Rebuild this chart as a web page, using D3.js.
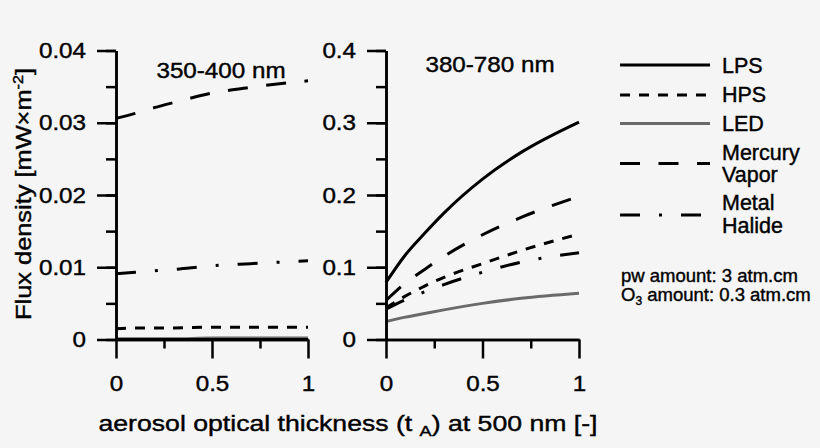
<!DOCTYPE html>
<html>
<head>
<meta charset="utf-8">
<script src="https://cdn.jsdelivr.net/npm/d3@7"></script>
<style>
body { margin: 0; background: #f5f5f5; }
text { font-family: "Liberation Sans", Arial, sans-serif; fill: #000; stroke: #000; stroke-width: 0.4px; }
</style>
</head>
<body>
<div id="chart"></div>
<script>
// aerosol optical thickness at 500 nm
var aot = [0, 0.1, 0.2, 0.3, 0.5, 0.7, 1];

// 350-400 nm panel
var uvLPS = [0, 0, 0, 0, 0, 0, 0];
var uvHPS = [0.0015, 0.0016, 0.0016, 0.0016, 0.0017, 0.0017, 0.0017];
var uvLED = [0.0001, 0.0001, 0.0001, 0.0001, 0.0002, 0.0002, 0.0002];
var uvMercury = [0.0306, 0.0313, 0.0321, 0.0328, 0.0341, 0.0349, 0.0358];
var uvMetal = [0.0091, 0.0093, 0.0095, 0.0097, 0.0102, 0.0105, 0.0109];

// 380-780 nm panel
var visLPS = [0.079, 0.117, 0.147, 0.175, 0.222, 0.259, 0.301];
var visHPS = [0.044, 0.060, 0.074, 0.086, 0.105, 0.123, 0.146];
var visLED = [0.025, 0.031, 0.036, 0.041, 0.050, 0.057, 0.064];
var visMercury = [0.054, 0.078, 0.097, 0.115, 0.145, 0.169, 0.198];
var visMetal = [0.042, 0.055, 0.066, 0.076, 0.093, 0.107, 0.120];

var lamps = ["LPS", "HPS", "LED", "Mercury Vapor", "Metal Halide"];
var xTicks = [0, 0.5, 1];
var xTickLabels = ["0", "0.5", "1"];
var uvTicks = [0, 0.01, 0.02, 0.03, 0.04];
var uvTickLabels = ["0", "0.01", "0.02", "0.03", "0.04"];
var visTicks = [0, 0.1, 0.2, 0.3, 0.4];
var visTickLabels = ["0", "0.1", "0.2", "0.3", "0.4"];

var style = {
  "LPS": {color: "#000", dash: null},
  "HPS": {color: "#000", dash: "10,9"},
  "LED": {color: "#6a6a6a", dash: null},
  "Mercury Vapor": {color: "#000", dash: "20,18.5"},
  "Metal Halide": {color: "#000", dash: "20,19,3,19"}
};

var W = 820, H = 448;
var stretch = 1.1;

var svg = d3.select("#chart").append("svg")
  .attr("width", W)
  .attr("height", H);

svg.append("rect").attr("width", W).attr("height", H).attr("fill", "#f5f5f5");

var panels = [
  {x0: 116, x1: 308, max: 0.04, ticks: uvTicks, labels: uvTickLabels, minor: 0.005,
   title: "350-400 nm", titleX: 221, titleY: 78,
   series: [uvLED, uvLPS, uvHPS, uvMercury, uvMetal]},
  {x0: 386, x1: 579, max: 0.4, ticks: visTicks, labels: visTickLabels, minor: 0.05,
   title: "380-780 nm", titleX: 490, titleY: 72,
   series: [visLED, visLPS, visHPS, visMercury, visMetal]}
];
var seriesNames = ["LED", "LPS", "HPS", "Mercury Vapor", "Metal Halide"];

panels.forEach(function(p){
  var x = d3.scaleLinear().domain([0, 1]).range([p.x0, p.x1]);
  var y = d3.scaleLinear().domain([0, p.max]).range([339.5, 50.5]);

  var line = d3.line()
    .x(function(d){ return x(d[0]); })
    .y(function(d){ return y(d[1]); })
    .curve(d3.curveMonotoneX);

  p.series.forEach(function(vals, i){
    var s = style[seriesNames[i]];
    svg.append("path")
      .attr("d", line(aot.map(function(a, j){ return [a, vals[j]]; })))
      .attr("fill", "none")
      .attr("stroke", s.color)
      .attr("stroke-width", 3)
      .attr("stroke-dasharray", s.dash);
  });

  // minor ticks
  var minorY = d3.range(0, p.max + p.minor / 2, p.minor);
  svg.append("g")
    .attr("transform", "translate(" + p.x0 + ",0)")
    .call(d3.axisLeft(y).tickValues(minorY).tickSize(10).tickFormat("").tickSizeOuter(0));
  svg.append("g")
    .attr("transform", "translate(0,339.5)")
    .call(d3.axisBottom(x).tickValues([0.25, 0.75]).tickSize(9).tickFormat("").tickSizeOuter(0));

  // major ticks
  var ya = svg.append("g")
    .attr("transform", "translate(" + p.x0 + ",0)")
    .call(d3.axisLeft(y).tickValues(p.ticks).tickSize(19).tickPadding(11)
      .tickFormat(function(d, i){ return p.labels[i]; }).tickSizeOuter(0));
  ya.selectAll("text")
    .attr("x", -30 / stretch)
    .attr("transform", "scale(" + stretch + ",1)");

  var xa = svg.append("g")
    .attr("transform", "translate(0,339.5)")
    .call(d3.axisBottom(x).tickValues(xTicks).tickSize(19).tickPadding(17)
      .tickFormat(function(d, i){ return xTickLabels[i]; }).tickSizeOuter(0));
  xa.selectAll("text").attr("transform", "scale(" + stretch + ",1)");

  svg.selectAll(".domain, .tick line")
    .attr("stroke", "#000")
    .attr("stroke-width", 2.5);
  svg.selectAll(".tick text")
    .style("font-family", "Liberation Sans, Arial, sans-serif")
    .style("font-size", "22px")
    .attr("fill", "#000");

  svg.append("text")
    .attr("transform", "translate(" + p.titleX + "," + p.titleY + ") scale(" + stretch + ",1)")
    .attr("text-anchor", "middle")
    .style("font-size", "22px")
    .text(p.title);
});

// axis titles
var xl = svg.append("text")
  .attr("x", 348)
  .attr("y", 431)
  .attr("text-anchor", "middle")
  .attr("textLength", 499)
  .attr("lengthAdjust", "spacingAndGlyphs")
  .style("font-size", "22px");
xl.append("tspan").text("aerosol optical thickness (t ");
xl.append("tspan").attr("dy", 5).style("font-size", "15px").text("A");
xl.append("tspan").attr("dy", -5).text(") at 500 nm [-]");

var yl = svg.append("text")
  .attr("transform", "translate(31,194) rotate(-90)")
  .attr("text-anchor", "middle")
  .attr("textLength", 252)
  .attr("lengthAdjust", "spacingAndGlyphs")
  .style("font-size", "22px");
yl.append("tspan").text("Flux density [mW\u00d7m");
yl.append("tspan").attr("dy", -8).style("font-size", "14px").text("-2");
yl.append("tspan").attr("dy", 8).text("]");

// legend
var legendRows = [
  {line: 65, text: [73]},
  {line: 95, text: [101.5]},
  {line: 123.5, text: [130.5]},
  {line: 163.5, text: [160, 182]},
  {line: 215, text: [210, 233]}
];
var legendLabels = [["LPS"], ["HPS"], ["LED"], ["Mercury", "Vapor"], ["Metal", "Halide"]];

lamps.forEach(function(name, i){
  var s = style[name];
  var r = legendRows[i];
  svg.append("line")
    .attr("x1", 620).attr("x2", 710)
    .attr("y1", r.line).attr("y2", r.line)
    .attr("stroke", s.color)
    .attr("stroke-width", 3)
    .attr("stroke-dasharray", s.dash);
  legendLabels[i].forEach(function(t, k){
    svg.append("text")
      .attr("x", 722)
      .attr("y", r.text[k])
      .style("font-size", "21.5px")
      .text(t);
  });
});

svg.append("text")
  .attr("x", 621).attr("y", 282)
  .style("font-size", "18.5px")
  .text("pw amount: 3 atm.cm");
var o3 = svg.append("text")
  .attr("x", 621).attr("y", 301)
  .style("font-size", "18.5px");
o3.append("tspan").text("O");
o3.append("tspan").attr("dy", 4).style("font-size", "12px").text("3");
o3.append("tspan").attr("dy", -4).text(" amount: 0.3 atm.cm");
</script>
</body>
</html>
